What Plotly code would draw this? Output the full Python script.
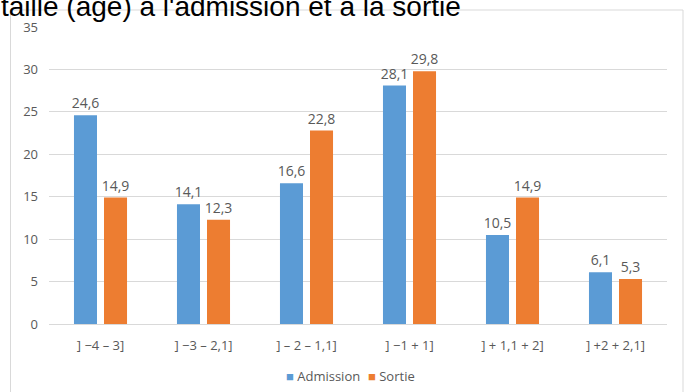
import plotly.graph_objects as go

# Tranches (écart-type) et pourcentages par série
categories = ["] −4 – 3]", "] −3 – 2,1]", "] – 2 – 1,1]", "] −1 + 1]", "] + 1,1 + 2]", "] +2 + 2,1]"]
admission = [24.6, 14.1, 16.6, 28.1, 10.5, 6.1]
sortie = [14.9, 12.3, 22.8, 29.8, 14.9, 5.3]
y_ticks = [0, 5, 10, 15, 20, 25, 30, 35]
series_names = ["Admission", "Sortie"]
series_colors = ["#5B9BD5", "#ED7D31"]

W, H = 686, 392
ML, MR, MT, MB = 49, 19, 27, 68
PW, PH = W - ML - MR, H - MT - MB


def px_x(x):
    return (x - ML) / PW


def px_y(y):
    return (H - MB - y) / PH


FONT = "Liberation Sans Narrow, Arial Narrow, Open Sans, sans-serif"
GREY = "#595959"


def fmt(v):
    return f"{v:.1f}".replace(".", ",")


fig = go.Figure()
for name, vals, col in zip(series_names, [admission, sortie], series_colors):
    fig.add_trace(go.Bar(
        name=name, x=categories, y=vals,
        marker=dict(color=col, line=dict(width=0)),
        text=[fmt(v) for v in vals], textposition="outside", constraintext="none",
        textfont=dict(family=FONT, size=14, color=GREY), cliponaxis=False,
        showlegend=False,
    ))

# légende dessinée sous le graphique
legend_notes = [
    dict(text=f"<span style='color:{series_colors[0]}'>■</span> {series_names[0]}",
         x=px_x(284), y=px_y(376)),
    dict(text=f"<span style='color:{series_colors[1]}'>■</span> {series_names[1]}",
         x=px_x(366), y=px_y(376)),
]
annotations = [dict(xref="paper", yref="paper", xanchor="left", yanchor="middle",
                    showarrow=False, font=dict(family=FONT, size=13, color=GREY), **n)
               for n in legend_notes]
annotations.append(dict(text="taille (âge) à l'admission et à la sortie",
                        xref="paper", yref="paper", x=px_x(-1), y=px_y(24),
                        xanchor="left", yanchor="bottom", showarrow=False,
                        font=dict(family="Liberation Sans, Arial, sans-serif", size=28,
                                  color="black")))

fig.update_layout(
    width=W, height=H,
    margin=dict(l=ML, r=MR, t=MT, b=MB, autoexpand=False),
    paper_bgcolor="white", plot_bgcolor="white",
    barmode="group", bargap=0.417, bargroupgap=0.233,
    separators=", ",
    font=dict(family=FONT, size=12, color=GREY),
    showlegend=False,
    xaxis=dict(showgrid=False, showline=False, zeroline=False, ticks="", automargin=False,
               ticklabelstandoff=12,
               tickfont=dict(family=FONT, size=13, color=GREY)),
    yaxis=dict(range=[0, 35], tickvals=y_ticks, showgrid=True, gridcolor="#D9D9D9",
               gridwidth=1, zeroline=True, zerolinecolor="#D9D9D9", zerolinewidth=1,
               showline=False, ticks="", ticklabelstandoff=10, automargin=False,
               tickfont=dict(family=FONT, size=13, color=GREY)),
    shapes=[dict(type="rect", xref="paper", yref="paper",
                 x0=px_x(10.5), x1=px_x(683), y0=px_y(10), y1=px_y(400),
                 line=dict(color="#D9D9D9", width=1), fillcolor="rgba(0,0,0,0)",
                 layer="below")],
    annotations=annotations,
)

fig.write_html("out.html")
